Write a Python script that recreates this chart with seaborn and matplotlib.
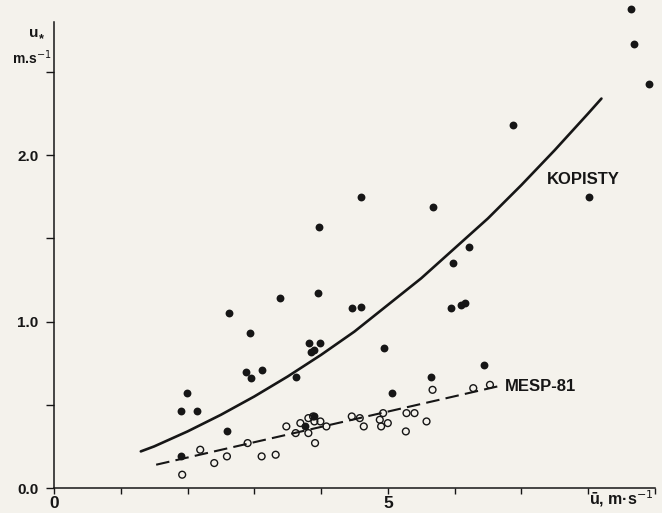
import numpy as np
import pandas as pd
import matplotlib
matplotlib.use('Agg')
import matplotlib.pyplot as plt
import seaborn as sns

# Kopisty measurements (filled dots), u in m/s, u* in m/s
kop_u = [8.65, 8.69, 8.91, 6.88, 8.01, 4.60, 5.67, 3.97, 6.21, 5.98,
         3.96, 3.38, 2.62, 4.46, 4.60, 5.95, 6.10, 6.16, 2.93, 3.82,
         3.99, 3.90, 3.85, 4.94, 3.62, 2.87, 2.95, 3.11, 1.99, 1.90,
         2.14, 6.44, 5.64, 5.06, 2.59, 3.76, 3.90, 1.90]
kop_ustar = [2.88, 2.67, 2.43, 2.18, 1.75, 1.75, 1.69, 1.57, 1.45, 1.35,
             1.17, 1.14, 1.05, 1.08, 1.09, 1.08, 1.10, 1.11, 0.93, 0.87,
             0.87, 0.83, 0.82, 0.84, 0.67, 0.70, 0.66, 0.71, 0.57, 0.46,
             0.46, 0.74, 0.67, 0.57, 0.34, 0.37, 0.43, 0.19]

# MESP-81 measurements (open circles)
mesp_u = [1.92, 2.19, 2.40, 2.59, 2.90, 3.11, 3.32, 3.48, 3.62, 3.69,
          3.81, 3.88, 3.81, 3.90, 3.99, 3.91, 4.08, 4.46, 4.58, 4.64,
          4.88, 4.93, 4.90, 5.00, 5.28, 5.40, 5.27, 5.58, 5.67, 6.28, 6.53]
mesp_ustar = [0.08, 0.23, 0.15, 0.19, 0.27, 0.19, 0.20, 0.37, 0.33, 0.39,
              0.42, 0.43, 0.33, 0.40, 0.40, 0.27, 0.37, 0.43, 0.42, 0.37,
              0.41, 0.45, 0.37, 0.39, 0.45, 0.45, 0.34, 0.40, 0.59, 0.60, 0.62]

# fitted curves
kop_fit_u = [1.3, 1.5, 2.0, 2.5, 3.0, 3.5, 4.0, 4.5, 5.0, 5.5,
             6.0, 6.5, 7.0, 7.5, 8.0, 8.2]
kop_fit_ustar = [0.22, 0.25, 0.34, 0.44, 0.55, 0.67, 0.80, 0.94, 1.10, 1.26,
                 1.44, 1.62, 1.82, 2.03, 2.25, 2.34]
mesp_fit_u = [1.53, 6.64]
mesp_fit_ustar = [0.14, 0.61]

x_ticks = list(range(0, 10))
x_ticklabels = ['0', '', '', '', '', '5', '', '', '', '']
y_ticks = [0.0, 0.5, 1.0, 1.5, 2.0, 2.5]
y_ticklabels = ['0.0', '', '1.0', '', '2.0', '']

PAPER = '#f4f2ec'
INK = '#161616'

sns.set_style('ticks')
plt.rcParams['font.family'] = ['Liberation Sans', 'DejaVu Sans']

fig = plt.figure(figsize=(6.62, 5.13), dpi=100, facecolor=PAPER)
ax = fig.add_axes([0.0816, 0.0487, 0.9076, 0.9084])
ax.set_facecolor(PAPER)

kop_df = pd.DataFrame({'u': kop_u, 'ustar': kop_ustar})
mesp_df = pd.DataFrame({'u': mesp_u, 'ustar': mesp_ustar})

sns.lineplot(x=kop_fit_u, y=kop_fit_ustar, ax=ax, color=INK, lw=1.9)
sns.lineplot(x=mesp_fit_u, y=mesp_fit_ustar, ax=ax, color=INK, lw=1.5,
             linestyle=(0, (6.5, 3.0)))

sns.scatterplot(data=mesp_df, x='u', y='ustar', ax=ax, marker='o',
                facecolor='none', edgecolor=INK, linewidth=1.0, s=24,
                clip_on=False, zorder=3)
sns.scatterplot(data=kop_df, x='u', y='ustar', ax=ax, marker='o',
                color=INK, edgecolor=INK, linewidth=0, s=32,
                clip_on=False, zorder=4)

ax.text(7.38, 1.855, 'KOPISTY', fontsize=12, fontweight='bold', color=INK,
        ha='left', va='center')
ax.text(6.76, 0.61, 'MESP-81', fontsize=12, fontweight='bold', color=INK,
        ha='left', va='center')

ax.set_xlim(0, 9)
ax.set_ylim(0, 2.8)
ax.set_xticks(x_ticks)
ax.set_xticklabels(x_ticklabels)
ax.set_yticks(y_ticks)
ax.set_yticklabels(y_ticklabels)
ax.set_xlabel('')
ax.set_ylabel('')
ax.tick_params(axis='both', direction='out', width=1.0,
               color=INK, labelcolor=INK)
ax.tick_params(axis='x', length=4, labelsize=12.5, pad=2)
ax.tick_params(axis='y', length=6, labelsize=11, pad=5)
for lab in ax.get_xticklabels() + ax.get_yticklabels():
    lab.set_fontweight('bold')
sns.despine(ax=ax)
for side in ['left', 'bottom']:
    ax.spines[side].set_color(INK)
    ax.spines[side].set_linewidth(1.1)

# axis titles placed like in the original drawing
fig.text(0.058, 0.935, 'u', fontsize=11, fontweight='bold',
         color=INK, ha='right', va='center')
fig.text(0.059, 0.924, '*', fontsize=9, fontweight='bold',
         color=INK, ha='left', va='center')
fig.text(0.078, 0.887, 'm.s$^{-1}$', fontsize=10, fontweight='bold',
         color=INK, ha='right', va='center')
fig.text(0.890, 0.027, '\u016b, m\u00b7s$^{-1}$', fontsize=11.5,
         fontweight='bold', color=INK, ha='left', va='center')

fig.savefig('out.png', dpi=100, facecolor=PAPER)
